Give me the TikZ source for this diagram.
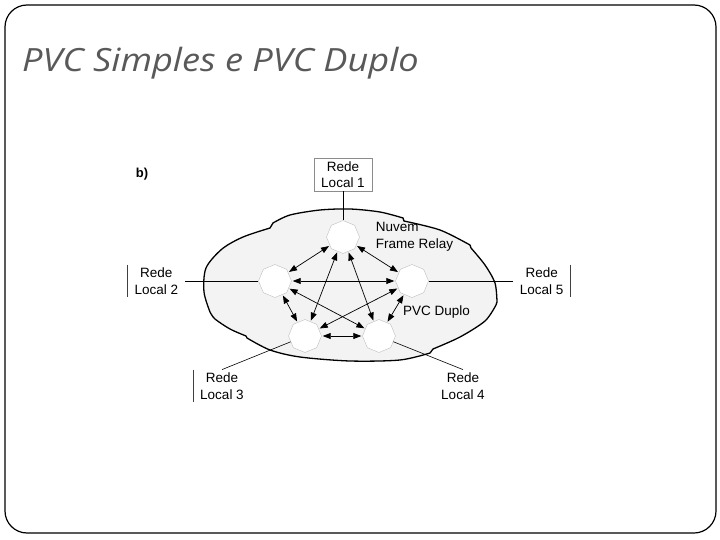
\documentclass[tikz,border=0pt]{standalone}
\usepackage{fontspec}
\setmainfont{Liberation Sans}
\newfontfamily\titlefont{Open Sans}
\usetikzlibrary{arrows.meta,positioning,shapes.geometric}
\definecolor{cloudfill}{HTML}{F3F3F3}
\definecolor{titlegray}{HTML}{595959}
\tikzset{octo/.style={regular polygon,regular polygon sides=8,shape border rotate=22.5,minimum size=33pt,inner sep=0pt,draw=black!25,line width=0.4pt,fill=white},rede/.style={align=center,inner xsep=7pt,inner ysep=3pt,font=\fontsize{13.5}{16.5}\selectfont},lbl/.style={inner sep=0pt,align=left,font=\fontsize{13.5}{16.5}\selectfont},pvc/.style={{Triangle[length=8pt,width=6pt]}-{Triangle[length=8pt,width=6pt]},line width=0.7pt,shorten <=1pt,shorten >=1pt},wire/.style={line width=0.6pt},bar/.style={line width=0.6pt,black!75}}

\begin{document}
\begin{tikzpicture}[x=1pt,y=-1pt]
\useasboundingbox (0,0) rectangle (720,540);
\draw[line width=1.2pt,rounded corners=22pt] (5,5) rectangle (716,533);
\node[anchor=base west,inner sep=0pt,text=titlegray,font=\titlefont\itshape\fontsize{32}{36}\selectfont] (title) at (22,72) {\scalebox{1.13}[1]{PVC Simples e PVC Duplo}};
\node[font=\bfseries\fontsize{13}{16}\selectfont,inner sep=0pt] (b) at (142,174) {b)};
\draw[line width=1.3pt,fill=cloudfill] plot[smooth] coordinates {(210,312) (204,292) (206,268) (222,249) (243,237) (270,228)} -- plot[smooth] coordinates {(273,223) (290,215) (320,210) (350,209) (380,212) (403,218)} -- plot[smooth] coordinates {(404,221) (440,230) (470,245)} -- plot[smooth] coordinates {(471,248) (485,265) (495,283) (497,302)} -- plot[smooth] coordinates {(496,305) (485,321) (460,337) (433,349)} -- plot[smooth] coordinates {(430,353) (400,360) (350,361) (300,357) (270,350) (247,338)} -- plot[smooth] coordinates {(246,336) (230,329) (215,319) (210,312)} -- cycle;
\node[octo] (n1) at (343,237) {};\node[octo] (n2) at (275,281) {};\node[octo] (n5) at (412,281) {};\node[octo] (n3) at (305,336) {};\node[octo] (n4) at (379,336) {};
\node[rede,draw=black!45,above=29pt of n1] (l1) {Rede\\Local 1};\node[rede,left=73pt of n2] (l2) {Rede\\Local 2};\node[rede,right=84pt of n5] (l5) {Rede\\Local 5};\node[rede] (l3) at (222,386) {Rede\\Local 3};\node[rede] (l4) at (463,386) {Rede\\Local 4};
\draw[wire] (l1) -- (n1);\draw[wire] (l2) -- (n2);\draw[wire] (n5) -- (l5);\draw[wire] (l3.north) -- (n3);\draw[wire] (n4) -- (l4.north);
\draw[bar] (l2.north west) -- (l2.south west);\draw[bar] (l5.north east) -- (l5.south east);\draw[bar] (l3.north west) -- (l3.south west);
\foreach \a/\b in {n1/n2,n1/n5,n1/n3,n1/n4,n2/n5,n2/n3,n2/n4,n5/n3,n5/n4,n3/n4} \draw[pvc] (\a) -- (\b);
\node[lbl,right=16pt of n1] (nuvem) {Nuvem\\Frame Relay};
\node[lbl,anchor=west] (duplo) at (403,312) {PVC Duplo};
\end{tikzpicture}
\end{document}
